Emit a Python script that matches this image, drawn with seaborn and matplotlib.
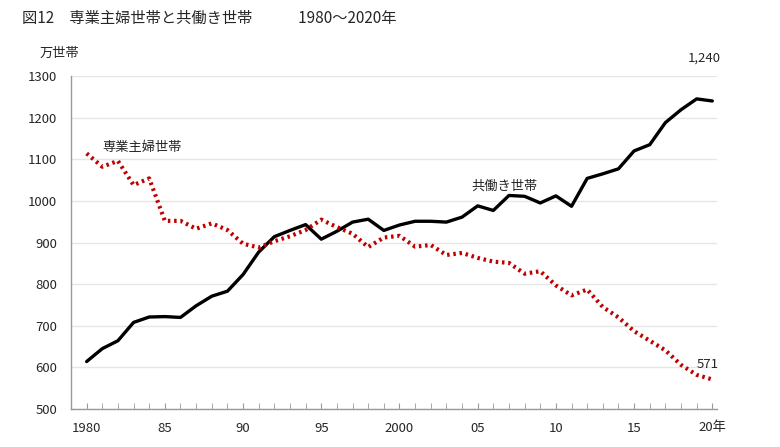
import matplotlib
matplotlib.use("Agg")
import matplotlib.pyplot as plt
import numpy as np
import pandas as pd
import seaborn as sns

years = list(range(1980, 2021))
housewife = [1114, 1082, 1096, 1038, 1054, 952, 952, 933, 946, 930,
             897, 888, 903, 915, 930, 955, 937, 921, 889, 912,
             916, 890, 894, 870, 875, 863, 854, 851, 825, 831,
             797, 773, 787, 745, 720, 687, 664, 641, 606, 582, 571]
dual = [614, 645, 664, 708, 721, 722, 720, 748, 771, 783,
        823, 877, 914, 929, 943, 908, 927, 949, 956, 929,
        942, 951, 951, 949, 961, 988, 977, 1013, 1011, 995,
        1012, 987, 1054, 1065, 1077, 1120, 1135, 1188, 1219, 1245, 1240]
xtick_pos = [1980, 1985, 1990, 1995, 2000, 2005, 2010, 2015, 2020]
xtick_labels = ['1980', '85', '90', '95', '2000', '05', '10', '15', '20年']

df = pd.DataFrame({'year': years, 'housewife': housewife, 'dual': dual})

sns.set_style('white')
plt.rcParams['font.family'] = ['Noto Sans CJK JP', 'DejaVu Sans']

fig = plt.figure(figsize=(7.8, 4.47), dpi=100)
ax = fig.add_axes([71 / 780, 1 - 409 / 447, (717 - 71) / 780, (409 - 76) / 447])

sns.lineplot(data=df, x='year', y='dual', ax=ax, color='black', lw=2.4)
sns.lineplot(data=df, x='year', y='housewife', ax=ax, color='#C00000',
             lw=3, linestyle=(0, (0.6, 0.9)), dash_capstyle='butt')

ax.set_xlim(1979, 2020.3)
ax.set_ylim(500, 1300)
ax.set_yticks(np.arange(500, 1301, 100))
ax.yaxis.grid(True, color='#e6e6e6', lw=1)
ax.set_axisbelow(True)
ax.set_xticks(xtick_pos)
ax.set_xticklabels(xtick_labels)
ax.set_xticks(years, minor=True)
ax.tick_params(axis='x', which='both', direction='in', length=4, color='#999999',
               labelsize=9.5, pad=9, bottom=True)
ax.tick_params(axis='y', length=0, labelsize=9.5, pad=10)
ax.set_xlabel('')
ax.set_ylabel('')
for s in ['top', 'right']:
    ax.spines[s].set_visible(False)
for s in ['left', 'bottom']:
    ax.spines[s].set_color('#999999')
    ax.spines[s].set_linewidth(1)

ax.annotate('1,240', xy=(years[-1], dual[-1]), xytext=(-18, 28),
            textcoords='offset points', fontsize=9.5)
ax.annotate('571', xy=(years[-1], housewife[-1]), xytext=(-11, 8),
            textcoords='offset points', fontsize=9.5)
ax.text(1981, 1120, '専業主婦世帯', fontsize=9.5)
ax.text(2004.6, 1026, '共働き世帯', fontsize=9.5)

fig.text(22 / 780, 1 - 18 / 447, '図12　専業主婦世帯と共働き世帯　　　1980～2020年',
         fontsize=11, va='center')
fig.text(40 / 780, 1 - 53 / 447, '万世帯', fontsize=9.5, va='center')

fig.savefig('out.png', dpi=100)
